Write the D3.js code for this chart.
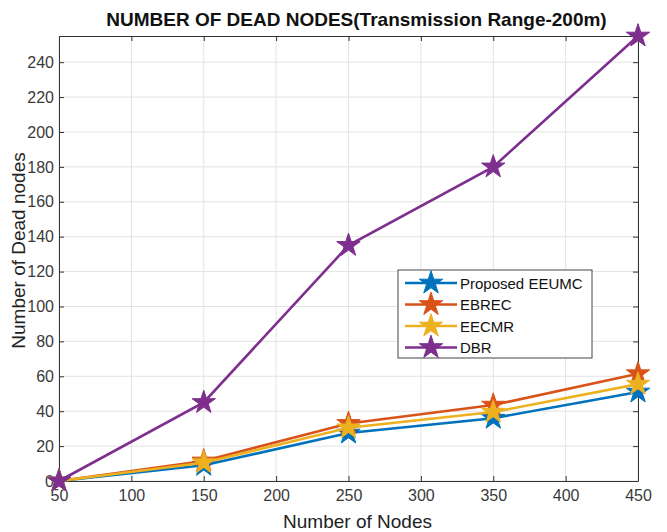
<!DOCTYPE html>
<html><head><meta charset="utf-8">
<script src="https://cdn.jsdelivr.net/npm/d3@7"></script>
<style>body{margin:0;background:#fff}svg{display:block}</style>
</head><body>
<script>
const nodes = [50, 150, 250, 350, 450];
const proposed = [0, 9, 27.5, 36, 51];
const ebrec = [0, 11.5, 33, 43.5, 61.5];
const eecmr = [0, 10.5, 30.5, 39.5, 55.5];
const dbr = [0, 45, 135, 180, 255];
const seriesNames = ["Proposed EEUMC", "EBREC", "EECMR", "DBR"];
const seriesColors = ["#0072BD", "#D95319", "#EDB120", "#7E2F8E"];
const xTicks = [50, 100, 150, 200, 250, 300, 350, 400, 450];
const yTicks = [0, 20, 40, 60, 80, 100, 120, 140, 160, 180, 200, 220, 240];

const W = 667, H = 532;
const m = {l: 59, r: 29, t: 36, b: 51};
const svg = d3.select("body").append("svg").attr("width", W).attr("height", H)
  .style("font-family", "'Liberation Sans', Arial, sans-serif");

const x = d3.scaleLinear().domain([50, 450]).range([m.l, W - m.r]);
const y = d3.scaleLinear().domain([0, 255]).range([H - m.b, m.t]);

// grid
const g = svg.append("g");
g.selectAll(".gx").data(xTicks).join("line")
  .attr("x1", d => x(d)).attr("x2", d => x(d)).attr("y1", y(0)).attr("y2", y(255))
  .attr("stroke", "#e3e3e3").attr("stroke-width", 1);
g.selectAll(".gy").data(yTicks).join("line")
  .attr("y1", d => y(d)).attr("y2", d => y(d)).attr("x1", x(50)).attr("x2", x(450))
  .attr("stroke", "#e3e3e3").attr("stroke-width", 1);

// axes
const xAxis = d3.axisBottom(x).tickValues(xTicks).tickSizeInner(-5).tickSizeOuter(0).tickPadding(9);
const yAxis = d3.axisLeft(y).tickValues(yTicks).tickSizeInner(-5).tickSizeOuter(0).tickPadding(5);
const gx = svg.append("g").attr("transform", `translate(0,${y(0)})`).call(xAxis);
const gy = svg.append("g").attr("transform", `translate(${x(50)},0)`).call(yAxis);
[gx, gy].forEach(a => {
  a.selectAll("text").attr("fill", "#3a3a3a").style("font-size", "16px").style("font-family", "'Liberation Sans', Arial, sans-serif");
  a.selectAll("line").attr("stroke", "#333");
  a.select(".domain").attr("stroke", "#333");
});
// top / right ticks and box
const gxt = svg.append("g").attr("transform", `translate(0,${y(255)})`)
  .call(d3.axisTop(x).tickValues(xTicks).tickSizeInner(-5).tickSizeOuter(0).tickFormat(""));
const gyr = svg.append("g").attr("transform", `translate(${x(450)},0)`)
  .call(d3.axisRight(y).tickValues(yTicks).tickSizeInner(-5).tickSizeOuter(0).tickFormat(""));
[gxt, gyr].forEach(a => { a.selectAll("line").attr("stroke", "#333"); a.select(".domain").attr("stroke", "#333"); });

// series
const allData = [proposed, ebrec, eecmr, dbr];
const line = d3.line().x((d, i) => x(nodes[i])).y(d => y(d));
const star = d3.symbol().type(d3.symbolStar).size(170);
allData.forEach((vals, k) => {
  svg.append("path").datum(vals).attr("d", line)
    .attr("fill", "none").attr("stroke", seriesColors[k]).attr("stroke-width", 2.6);
  svg.selectAll(null).data(vals).join("path")
    .attr("d", star)
    .attr("transform", (d, i) => `translate(${x(nodes[i])},${y(d)})`)
    .attr("fill", seriesColors[k]).attr("stroke", seriesColors[k]).attr("stroke-width", 1);
});

// title & labels
svg.append("text").attr("x", (x(50) + x(450)) / 2 + 8).attr("y", 26).attr("text-anchor", "middle")
  .style("font-size", "19px").style("font-weight", "bold").attr("fill", "#111")
  .text("NUMBER OF DEAD NODES(Transmission Range-200m)");
svg.append("text").attr("x", (x(50) + x(450)) / 2 + 9).attr("y", 528).attr("text-anchor", "middle")
  .style("font-size", "19px").attr("fill", "#222").text("Number of Nodes");
svg.append("text").attr("transform", `translate(25,${(y(0) + y(255)) / 2 - 8}) rotate(-90)`)
  .attr("text-anchor", "middle").style("font-size", "19px").attr("fill", "#222")
  .text("Number of Dead nodes");

// legend
const lg = svg.append("g").attr("transform", "translate(398,270)");
lg.append("rect").attr("width", 194).attr("height", 88).attr("fill", "#fff")
  .attr("stroke", "#444").attr("stroke-width", 1);
seriesNames.forEach((n, k) => {
  const yy = 13 + k * 21.5;
  lg.append("line").attr("x1", 7).attr("x2", 59).attr("y1", yy).attr("y2", yy)
    .attr("stroke", seriesColors[k]).attr("stroke-width", 2.6);
  lg.append("path").attr("d", star).attr("transform", `translate(33,${yy})`)
    .attr("fill", seriesColors[k]).attr("stroke", seriesColors[k]);
  lg.append("text").attr("x", 62).attr("y", yy + 5.5).style("font-size", "15px")
    .attr("fill", "#111").text(n);
});
</script>
</body></html>
